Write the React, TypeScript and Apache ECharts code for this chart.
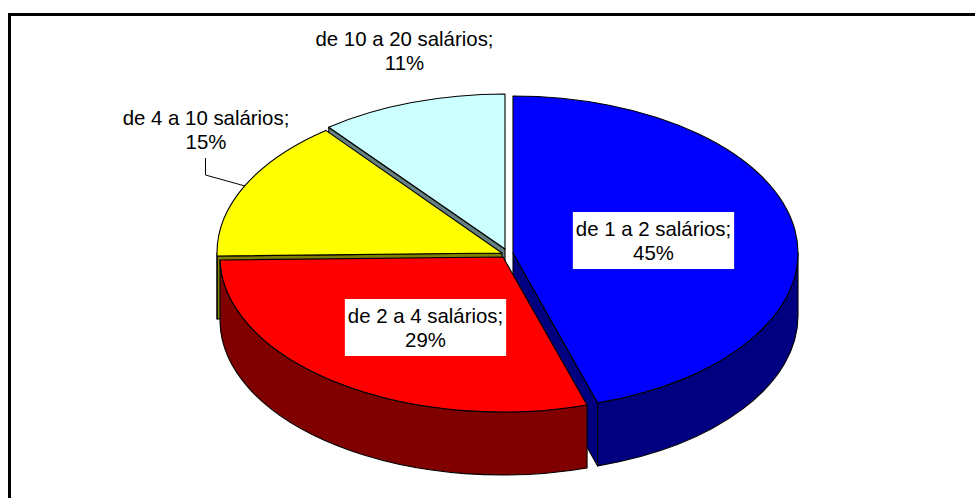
import React, { useEffect, useRef } from "react";
import * as echarts from "echarts";

// Data (labels show the rounded percentages)
const categories = ["de 1 a 2 salários", "de 2 a 4 salários", "de 4 a 10 salários", "de 10 a 20 salários"];
const shares = [45.2, 29.49, 14.7, 10.61];
const topColors = ["#0000FF", "#FF0000", "#FFFF00", "#CCFFFF"];
const wallColors = ["#000080", "#800000", "#808000", "#668080"];

// Layout of the tilted pie
const RX = [285, 283, 285, 285];
const RY = [157, 155, 156, 155];
const CENTER_X = [513, 503, 502, 505];
const CENTER_Y = [253, 257, 253, 249];
const DEPTH = 63;
const PAINT_ORDER = [2, 3, 1, 0]; // back slices are painted first
const LABEL_X = [653.5, 425.5, 206, 404.5];
const LABEL_Y = [240.5, 327.5, 130, 50.5];
const LABEL_BOXED = [true, true, false, false];
const FONT = '20.4px "Liberation Sans", Arial, sans-serif';

const total = shares.reduce((a, b) => a + b, 0);
const startAngles: number[] = [];
shares.reduce((acc, v, i) => {
  startAngles[i] = (acc / total) * 360;
  return acc + v;
}, 0);

function renderSlice(_params: any, api: any) {
  const i = api.value(1) as number;
  const a1 = startAngles[i];
  const a2 = a1 + (api.value(0) / total) * 360;
  const cx = CENTER_X[i];
  const cy = CENTER_Y[i];
  const rx = RX[i];
  const ry = RY[i];
  const pt = (deg: number, dy = 0) => {
    const r = (deg * Math.PI) / 180;
    return [cx + rx * Math.sin(r), cy - ry * Math.cos(r) + dy];
  };
  const z = PAINT_ORDER[i] * 3;
  const edge = { stroke: "#000", lineWidth: 1.1, lineJoin: "round" };
  const children: any[] = [];

  const radial = (deg: number) => {
    const p = pt(deg);
    const q = pt(deg, DEPTH);
    children.push({
      type: "path",
      z2: z,
      shape: { pathData: `M${cx} ${cy}L${p[0]} ${p[1]}L${q[0]} ${q[1]}L${cx} ${cy + DEPTH}Z` },
      style: { ...edge, fill: wallColors[i] },
    });
  };
  if (a1 > 180 && a1 < 360) radial(a1);
  if (a2 > 0 && a2 < 180) radial(a2);

  const w1 = Math.max(a1, 90);
  const w2 = Math.min(a2, 270);
  if (w2 > w1) {
    const p = pt(w1);
    const q = pt(w2);
    const qb = pt(w2, DEPTH);
    const pb = pt(w1, DEPTH);
    const large = w2 - w1 > 180 ? 1 : 0;
    children.push({
      type: "path",
      z2: z + 1,
      shape: {
        pathData:
          `M${p[0]} ${p[1]}A${rx} ${ry} 0 ${large} 1 ${q[0]} ${q[1]}` +
          `L${qb[0]} ${qb[1]}A${rx} ${ry} 0 ${large} 0 ${pb[0]} ${pb[1]}Z`,
      },
      style: { ...edge, fill: wallColors[i] },
    });
  }

  const s = pt(a1);
  const e = pt(a2 - 1e-3);
  const large = a2 - a1 > 180 ? 1 : 0;
  children.push({
    type: "path",
    z2: z + 2,
    shape: {
      pathData: `M${cx} ${cy}L${s[0]} ${s[1]}A${rx} ${ry} 0 ${large} 1 ${e[0]} ${e[1]}Z`,
    },
    style: { ...edge, fill: topColors[i] },
  });
  return { type: "group", children };
}

function renderLabel(_params: any, api: any) {
  const i = api.value(1) as number;
  return {
    type: "text",
    z2: 100,
    x: LABEL_X[i],
    y: LABEL_Y[i],
    style: {
      text: `${categories[i]};\n${Math.round(api.value(0))}%`,
      font: FONT,
      fill: "#000",
      align: "center",
      verticalAlign: "middle",
      lineHeight: 24,
      backgroundColor: LABEL_BOXED[i] ? "#fff" : undefined,
      padding: LABEL_BOXED[i] ? [4, 3, 5, 3] : 0,
    },
  };
}

export default function App() {
  const ref = useRef<HTMLDivElement>(null);
  useEffect(() => {
    const chart = echarts.init(ref.current!, null, { renderer: "svg" });
    const data = shares.map((v, i) => ({ value: [v, i], name: categories[i] }));
    chart.setOption({
      animation: false,
      backgroundColor: "#fff",
      graphic: [
        {
          type: "polyline",
          silent: true,
          shape: { points: [[9.5, 498], [9.5, 14.5], [975, 14.5]] },
          style: { stroke: "#000", lineWidth: 3, fill: "none" },
        },
        {
          type: "polyline",
          silent: true,
          shape: { points: [[205.5, 158], [205.5, 175], [245, 186]] },
          style: { stroke: "#000", lineWidth: 1, fill: "none" },
        },
      ],
      series: [
        { type: "custom", coordinateSystem: "none", renderItem: renderSlice, data, z: 2, silent: true },
        { type: "custom", coordinateSystem: "none", renderItem: renderLabel, data, z: 3, silent: true },
      ],
    });
    return () => chart.dispose();
  }, []);
  return <div ref={ref} style={{ position: "absolute", left: 0, top: 0, width: 975, height: 498 }} />;
}
